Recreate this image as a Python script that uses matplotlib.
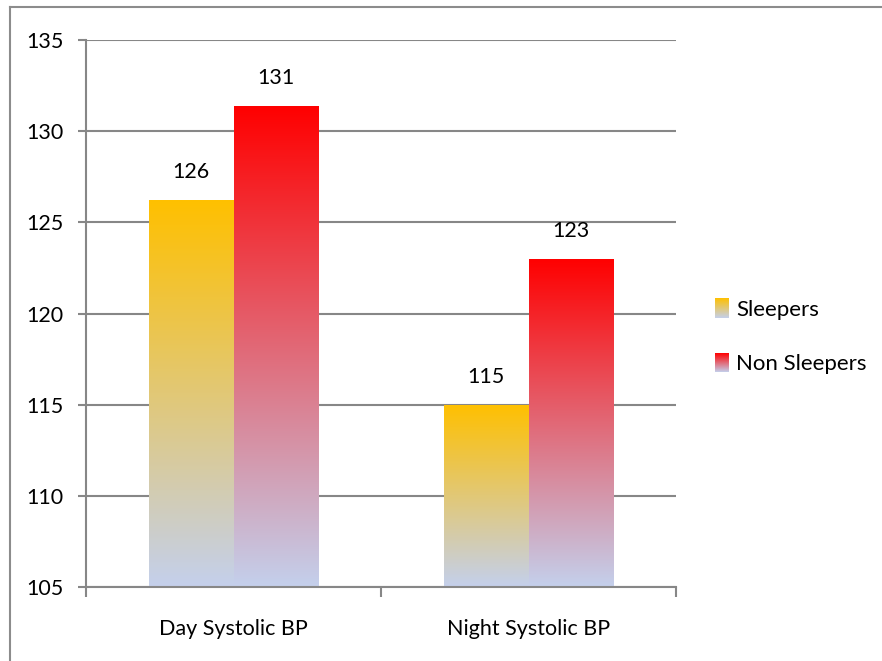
import numpy as np
import matplotlib
matplotlib.use("Agg")
import matplotlib.pyplot as plt
from matplotlib.colors import LinearSegmentedColormap
from matplotlib.lines import Line2D

# Chart data
categories = ["Day Systolic BP", "Night Systolic BP"]
series_names = ["Sleepers", "Non Sleepers"]
sleepers = [126.2, 115.0]
non_sleepers = [131.4, 123.0]
y_ticks = [105, 110, 115, 120, 125, 130, 135]

plt.rcParams['font.family'] = ['Lato', 'DejaVu Sans']

W, H = 882, 661
fig = plt.figure(figsize=(W / 100, H / 100), dpi=100)
ax = fig.add_axes([86 / W, 74 / H, 590 / W, 547 / H])

grey = '#878787'
top_colors = ['#ffc000', '#ff0000']
bottom_color = '#c4d0ec'
fs = 15.5
fs_legend = 16
ymin, ymax = y_ticks[0], y_ticks[-1]
width = 0.287
x = np.arange(len(categories))
grad = np.linspace(1, 0, 256).reshape(-1, 1)

cmaps = []
for i, (vals, tc) in enumerate(zip([sleepers, non_sleepers], top_colors)):
    cmap = LinearSegmentedColormap.from_list(series_names[i], [bottom_color, tc])
    cmaps.append(cmap)
    offs = (i - 0.5) * width
    heights = np.array(vals) - ymin
    bars = ax.bar(x + offs, heights, width, bottom=ymin,
                  facecolor='none', edgecolor='none', zorder=2)
    for bar, v in zip(bars, vals):
        x0, w = bar.get_x(), bar.get_width()
        y0, h = bar.get_y(), bar.get_height()
        im = ax.imshow(grad, extent=[x0, x0 + w, y0, y0 + h], aspect='auto',
                       cmap=cmap, vmin=0, vmax=1, origin='upper', zorder=2,
                       interpolation='bilinear')
        im.set_clip_path(bar)
        ax.annotate(f"{v:.0f}", (x0 + w / 2, y0 + h), xytext=(0, 13),
                    textcoords='offset points', ha='center', va='bottom',
                    fontsize=fs, color='black')

ax.set_xlim(-0.5, len(categories) - 0.5)
ax.set_ylim(ymin, ymax)
ax.set_yticks(y_ticks)
ax.set_yticklabels([str(t) for t in y_ticks])
ax.tick_params(axis='y', length=5.8, width=1.5, color=grey, pad=10.5,
               labelsize=fs, labelcolor='black')

# category boundaries carry the tick marks; names sit in between
ax.set_xticks(np.arange(len(categories) + 1) - 0.5)
ax.set_xticklabels([])
ax.set_xticks(x, minor=True)
ax.set_xticklabels(categories, minor=True)
ax.tick_params(axis='x', which='major', length=7.2, width=1.5, color=grey)
ax.tick_params(axis='x', which='minor', length=0, pad=23, labelsize=fs)

ax.yaxis.grid(True, color=grey, lw=1.5)
ax.set_axisbelow(True)
for side in ('top', 'right'):
    ax.spines[side].set_visible(False)
for side in ('left', 'bottom'):
    ax.spines[side].set_color(grey)
    ax.spines[side].set_linewidth(1.5)

# legend swatches with the same gradients
legend_boxes = [(715, 298, 14, 20), (715, 353, 14, 19)]
for (lx, ly, lw, lh), cmap, name in zip(legend_boxes, cmaps, series_names):
    sw = fig.add_axes([lx / W, 1 - (ly + lh) / H, lw / W, lh / H])
    sw.imshow(grad, aspect='auto', cmap=cmap, vmin=0, vmax=1,
              interpolation='bilinear')
    sw.axis('off')
    fig.text((lx + 21) / W, 1 - (ly + lh / 2 + 2) / H, name,
             fontsize=fs_legend, va='center', ha='left')

# chart area frame
fig.add_artist(Line2D([10 / W, 1], [1 - 7 / H, 1 - 7 / H],
                      transform=fig.transFigure, color='#8c8c8c', lw=1.5))
fig.add_artist(Line2D([10 / W, 10 / W], [0, 1 - 7 / H],
                      transform=fig.transFigure, color='#8c8c8c', lw=1.5))

fig.savefig("out.png", dpi=100)
